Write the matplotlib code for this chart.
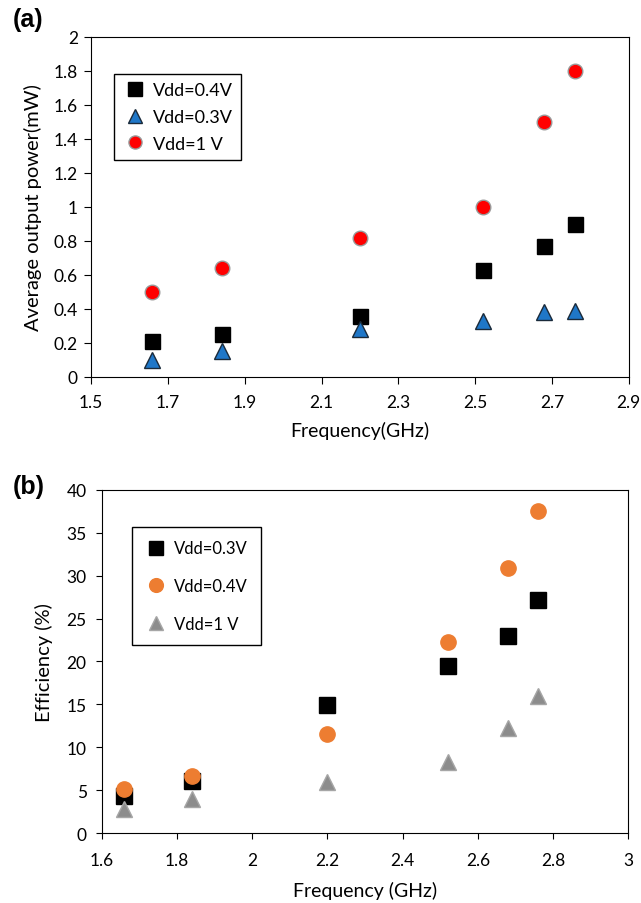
import matplotlib
matplotlib.use("Agg")
import matplotlib.pyplot as plt

plt.rcParams['font.family'] = ['Lato', 'DejaVu Sans']

freq = [1.66, 1.84, 2.2, 2.52, 2.68, 2.76]

# panel (a): average output power (mW)
pow_04 = [0.21, 0.25, 0.36, 0.63, 0.77, 0.90]
pow_03 = [0.10, 0.15, 0.28, 0.33, 0.38, 0.39]
pow_1 = [0.50, 0.64, 0.82, 1.00, 1.50, 1.80]

# panel (b): efficiency (%)
eff_03 = [4.3, 6.1, 14.9, 19.5, 23.0, 27.2]
eff_04 = [5.1, 6.6, 11.5, 22.3, 30.9, 37.5]
eff_1 = [2.8, 4.0, 5.9, 8.3, 12.3, 16.0]

W, H = 641, 904
fig = plt.figure(figsize=(W / 100, H / 100), dpi=100)

# ---- (a)
ax1 = fig.add_axes([0.142, 0.582, 0.839, 0.376])
ax1.plot(freq, pow_04, 's', color='black', markersize=10.8, label='Vdd=0.4V')
ax1.plot(freq, pow_03, '^', color='#1f77c8', markeredgecolor='#1a2a3a',
         markersize=11, label='Vdd=0.3V')
ax1.plot(freq, pow_1, 'o', color='#ff0000', markeredgecolor='#999999',
         markersize=10.5, label='Vdd=1 V')
ax1.set_xlim(1.5, 2.9)
ax1.set_ylim(0, 2)
ax1.set_xticks([1.5, 1.7, 1.9, 2.1, 2.3, 2.5, 2.7, 2.9])
ax1.set_xticklabels(['1.5', '1.7', '1.9', '2.1', '2.3', '2.5', '2.7', '2.9'])
ax1.set_yticks([0, 0.2, 0.4, 0.6, 0.8, 1, 1.2, 1.4, 1.6, 1.8, 2])
ax1.set_yticklabels(['0', '0.2', '0.4', '0.6', '0.8', '1', '1.2', '1.4', '1.6', '1.8', '2'])
ax1.set_xlabel('Frequency(GHz)', fontsize=14, labelpad=8)
ax1.set_ylabel('Average output power(mW)', fontsize=14.5, labelpad=8)
ax1.tick_params(labelsize=12.5, direction='out', length=5)
ax1.tick_params(axis='x', pad=7)
ax1.tick_params(axis='y', pad=4.5)
ax1.legend(loc='upper left', bbox_to_anchor=(114 / W, 1 - 75 / H),
           bbox_transform=fig.transFigure, fontsize=13, markerscale=0.9,
           frameon=True, fancybox=False, edgecolor='black', framealpha=1,
           handletextpad=0.3, handlelength=1.4, borderpad=0.45,
           labelspacing=0.6, borderaxespad=0)
fig.text(13 / W, 1 - 20 / H, '(a)', fontsize=18, fontweight='bold',
         family='Liberation Sans', va='center')

# ---- (b)
ax2 = fig.add_axes([0.159, 0.0774, 0.821, 0.3796])
ax2.plot(freq, eff_03, 's', color='black', markersize=11, label='Vdd=0.3V')
ax2.plot(freq, eff_04, 'o', color='#ed7d31', markersize=11, label='Vdd=0.4V')
ax2.plot(freq, eff_1, '^', color='#8c8c8c', markeredgecolor='#a6a6a6',
         markersize=11, label='Vdd=1 V')
ax2.set_xlim(1.6, 3.0)
ax2.set_ylim(0, 40)
ax2.set_xticks([1.6, 1.8, 2.0, 2.2, 2.4, 2.6, 2.8, 3.0])
ax2.set_xticklabels(['1.6', '1.8', '2', '2.2', '2.4', '2.6', '2.8', '3'])
ax2.set_yticks(range(0, 41, 5))
ax2.set_xlabel('Frequency (GHz)', fontsize=14, labelpad=9)
ax2.set_ylabel('Efficiency (%)', fontsize=14.5, labelpad=10)
ax2.tick_params(labelsize=12.5, direction='out', length=4)
ax2.tick_params(axis='x', pad=10)
ax2.tick_params(axis='y', pad=7)
ax2.legend(loc='upper left', bbox_to_anchor=(132 / W, 1 - 528 / H),
           bbox_transform=fig.transFigure, fontsize=12, markerscale=0.9,
           frameon=True, fancybox=False, edgecolor='black', framealpha=1,
           handletextpad=0.4, handlelength=1.3, borderpad=0.8,
           labelspacing=1.3, borderaxespad=0)
fig.text(13 / W, 1 - 487 / H, '(b)', fontsize=18, fontweight='bold',
         family='Liberation Sans', va='center')

fig.savefig('out.png', dpi=100)
